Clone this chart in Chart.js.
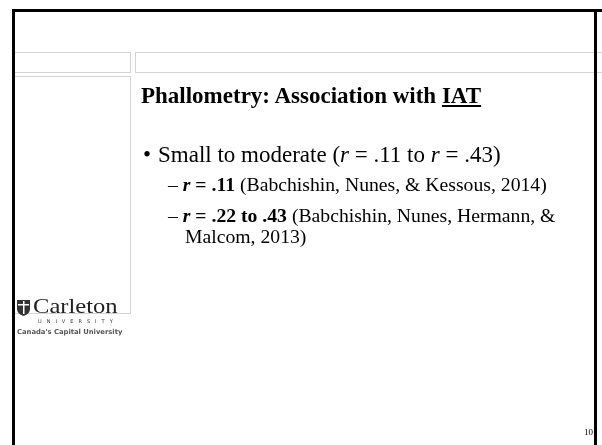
<!DOCTYPE html>
<html>
<head>
<meta charset="utf-8">
<script src="https://cdn.jsdelivr.net/npm/chart.js@4"></script>
<style>
body { margin: 0; background: #fff; }
#wrap { position: relative; width: 602px; height: 445px; overflow: hidden; font-family: "Liberation Serif", "Times New Roman", serif; color: #000; }
#slide { position: absolute; left: 0; top: 0; }
.t { position: absolute; white-space: nowrap; line-height: 1; }
.bul { display: inline-block; width: 15px; }
#subs { position: absolute; left: 168px; top: 174px; width: 415px; font-size: 19.7px; line-height: 21px; }
#subs div { padding-left: 17px; text-indent: -17px; }
#subs div + div { margin-top: 10px; }
</style>
</head>
<body>
<div id="wrap">
<canvas id="slide" width="602" height="445"></canvas>
<div class="t" id="title" style="left:141px;top:84px;font-size:23px;font-weight:bold"></div>
<div class="t" id="summary" style="left:143px;top:143px;font-size:23px"></div>
<div id="subs"></div>
<div class="t" style="left:33px;top:296px;font-size:21px;color:#222;transform:scaleX(1.17);transform-origin:left">Carleton</div>
<div class="t" style="left:38px;top:319px;font-family:'DejaVu Sans';font-size:5px;letter-spacing:5px;color:#333">UNIVERSITY</div>
<div class="t" style="left:17px;top:329px;font-family:'DejaVu Sans';font-weight:bold;font-size:6.8px;color:#555">Canada's Capital University</div>
<div class="t" style="left:584px;top:428px;font-size:9px">10</div>
</div>
<script>
// correlations between phallometry and the IAT
const studies = ['Babchishin, Nunes, & Kessous, 2014', 'Babchishin, Nunes, Hermann, & Malcom, 2013'];
const rLow = [0.11, 0.22];
const rHigh = [0.11, 0.43];
const topic = 'IAT';

const fmt = v => v.toFixed(2).replace(/^0/, '');

document.getElementById('title').innerHTML = 'Phallometry: Association with <u>' + topic + '</u>';
document.getElementById('summary').innerHTML = '<span class="bul">&bull;</span>Small to moderate (<i>r</i> = ' +
    fmt(Math.min(...rLow)) + ' to <i>r</i> = ' + fmt(Math.max(...rHigh)) + ')';

let subs = '';
studies.forEach((s, i) => {
    const range = rLow[i] === rHigh[i] ? fmt(rLow[i]) : fmt(rLow[i]) + ' to ' + fmt(rHigh[i]);
    subs += '<div>&ndash;&nbsp;<b><i>r</i> = ' + range + '</b> (' + s + ')</div>';
});
document.getElementById('subs').innerHTML = subs;

// slide frame + placeholder boxes
const slideFrame = {
    id: 'slideFrame',
    beforeDraw(chart) {
        const c = chart.ctx;
        c.save();
        c.strokeStyle = '#d4d4d4';
        c.lineWidth = 1;
        c.strokeRect(12.5, 52.5, 118, 20);
        c.strokeRect(135.5, 52.5, 480, 20);
        c.strokeRect(12.5, 76.5, 118, 237);
        c.fillStyle = '#000';
        c.fillRect(12, 9, 590, 3);
        c.fillRect(12, 9, 3, 436);
        c.fillRect(594, 9, 3, 436);
        // crest
        c.fillStyle = '#333';
        c.beginPath();
        c.moveTo(17, 300); c.lineTo(30, 300); c.lineTo(30, 309);
        c.quadraticCurveTo(30, 314, 23.5, 316); c.quadraticCurveTo(17, 314, 17, 309);
        c.closePath(); c.fill();
        c.fillStyle = '#fff';
        c.fillRect(18, 304, 11, 1.5);
        c.fillRect(23, 301, 1.5, 13);
        c.restore();
    }
};

new Chart(document.getElementById('slide'), {
    type: 'bar',
    data: {
        labels: studies,
        datasets: [{
            label: 'r',
            data: rLow.map((v, i) => [v, rHigh[i]]),
            hidden: true
        }]
    },
    options: {
        responsive: false,
        animation: false,
        plugins: { legend: { display: false }, tooltip: { enabled: false } },
        scales: { x: { display: false }, y: { display: false } }
    },
    plugins: [slideFrame]
});
</script>
</body>
</html>
